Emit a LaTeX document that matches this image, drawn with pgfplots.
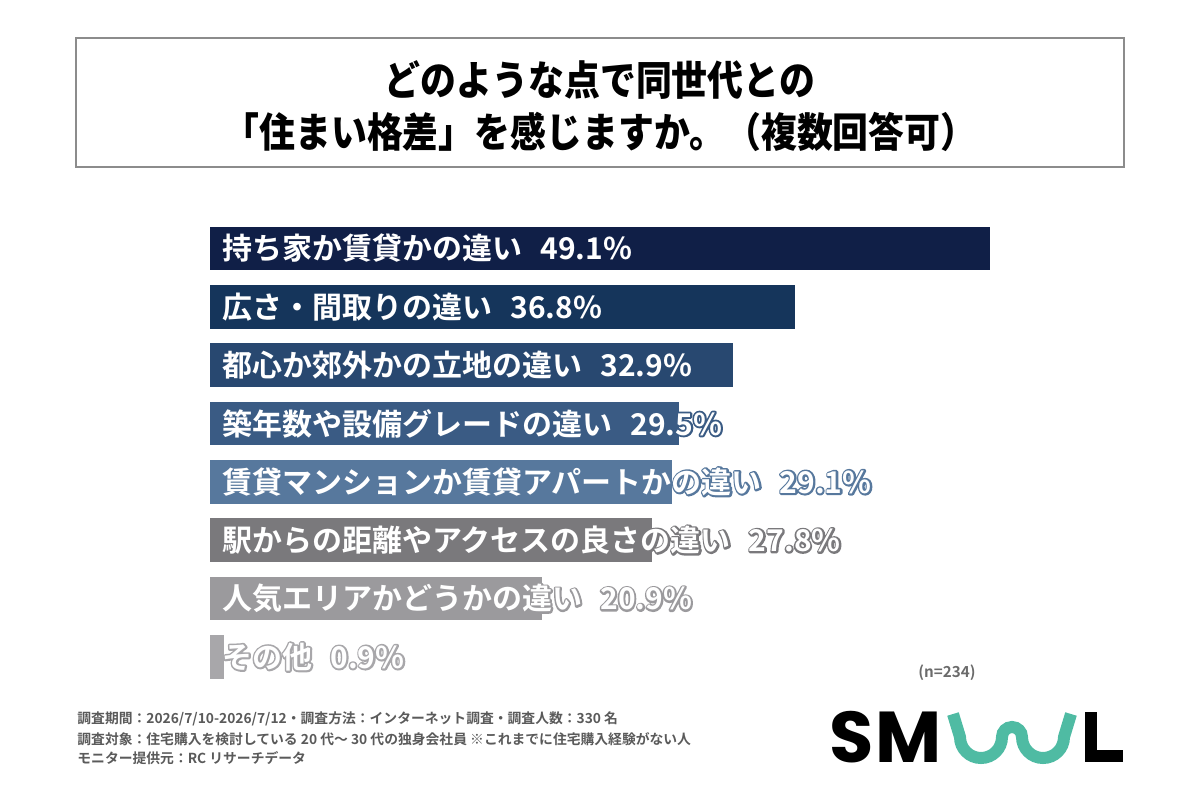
\documentclass[border=0pt]{standalone}
\usepackage{pgfplots}
\pgfplotsset{compat=1.18}
\usepackage{fontspec}
\setmainfont{Noto Sans CJK JP}[BoldFont={* Bold}]
\newfontfamily\titlefont{Noto Sans CJK JP}[UprightFont={* Black}]
\newfontfamily\logofont{Poppins}[UprightFont={* Bold}]

\definecolor{c1}{HTML}{101F47}
\definecolor{c2}{HTML}{15355B}
\definecolor{c3}{HTML}{284870}
\definecolor{c4}{HTML}{3A5B84}
\definecolor{c5}{HTML}{57789D}
\definecolor{c6}{HTML}{7A797C}
\definecolor{c7}{HTML}{9B9A9D}
\definecolor{c8}{HTML}{A8A7AA}
\definecolor{noteg}{HTML}{5A5A5A}
\definecolor{boxg}{HTML}{8C8C8C}
\definecolor{teal}{HTML}{4FBBA3}

% white label with a thin outline in the bar colour (#1 = r g b of the outline)
\newcommand\outlined[2]{%
  \rlap{\special{pdf:literal direct #1 RG 1 j 1 Tr 1.8 w}#2\special{pdf:literal direct 0 Tr}}#2}

\tikzset{lbl/.style={anchor=west, xshift=6pt, text=white, inner sep=0pt,
    font=\bfseries\fontsize{15pt}{17pt}\selectfont},
  note/.style={anchor=west, inner sep=0pt, text=noteg,
    font=\bfseries\fontsize{6.9pt}{8pt}\selectfont}}

\begin{document}
\begin{tikzpicture}
% page frame in pixel units
\begin{scope}[x=0.5pt,y=-0.5pt]
  \path (0,0) rectangle (1200,800);
  % title box
  \draw[boxg, line width=1pt] (76,38) rectangle (1124,167);
  \node[font=\titlefont\fontsize{18.5pt}{22pt}\selectfont] at (600,80) {\scalebox{0.97}[1.1]{どのような点で同世代との}};
  \node[font=\titlefont\fontsize{18.5pt}{22pt}\selectfont] at (600,132) {\scalebox{0.97}[1.1]{「住まい格差」を感じますか。（複数回答可）}};
  % survey notes
  \node[note] at (77,719) {調査期間：2026/7/10-2026/7/12・調査方法：インターネット調査・調査人数：330 名};
  \node[note] at (77,739) {調査対象：住宅購入を検討している 20 代～ 30 代の独身会社員 ※これまでに住宅購入経験がない人};
  \node[note] at (77,758) {モニター提供元：RC リサーチデータ};
  % sample size
  \node[text=noteg!90, font=\bfseries\fontsize{7.6pt}{8pt}\selectfont] at (947,673) {(n=234)};
  % logo
  \node[anchor=base west, inner sep=0pt, font=\logofont\fontsize{36pt}{36pt}\selectfont] at (829,762) {S\hspace{1pt}M};
  \draw[teal, line width=6pt] (953,714) -- (960,737) arc[start angle=180, end angle=0, radius=21]
     arc[start angle=180, end angle=360, radius=10] arc[start angle=180, end angle=0, radius=21] -- (1071,714);
  \draw[black, line width=6pt] (1091,712) -- (1091,756) -- (1123,756);
\end{scope}

\begin{axis}[
  at={(105pt,-109.65pt)}, anchor=north west,
  scale only axis, width=397.15pt, height=233.4pt,
  xmin=0, xmax=50, ymin=-0.5, ymax=7.5, y dir=reverse,
  hide axis, clip=false,
  xbar, bar width=21.75pt, bar shift=0pt,
]
\addplot[fill=c1, draw=none] coordinates {(49.1,0)};
\addplot[fill=c2, draw=none] coordinates {(36.8,1)};
\addplot[fill=c3, draw=none] coordinates {(32.9,2)};
\addplot[fill=c4, draw=none] coordinates {(29.5,3)};
\addplot[fill=c5, draw=none] coordinates {(29.1,4)};
\addplot[fill=c6, draw=none] coordinates {(27.8,5)};
\addplot[fill=c7, draw=none] coordinates {(20.9,6)};
\addplot[fill=c8, draw=none] coordinates {(0.9,7)};
\node[lbl] at (axis cs:0,0) {持ち家か賃貸かの違い\hspace{9pt}49.1\%};
\node[lbl] at (axis cs:0,1) {広さ・間取りの違い\hspace{9pt}36.8\%};
\node[lbl] at (axis cs:0,2) {都心か郊外かの立地の違い\hspace{9pt}32.9\%};
\node[lbl] at (axis cs:0,3) {\outlined{0.227 0.357 0.518}{築年数や設備グレードの違い\hspace{9pt}29.5\%}};
\node[lbl] at (axis cs:0,4) {\outlined{0.341 0.471 0.616}{賃貸マンションか賃貸アパートかの違い\hspace{9pt}29.1\%}};
\node[lbl] at (axis cs:0,5) {\outlined{0.478 0.475 0.486}{駅からの距離やアクセスの良さの違い\hspace{9pt}27.8\%}};
\node[lbl] at (axis cs:0,6) {\outlined{0.608 0.604 0.616}{人気エリアかどうかの違い\hspace{9pt}20.9\%}};
\node[lbl] at (axis cs:0,7) {\outlined{0.659 0.655 0.667}{その他\hspace{9pt}0.9\%}};
\end{axis}
\end{tikzpicture}
\end{document}
